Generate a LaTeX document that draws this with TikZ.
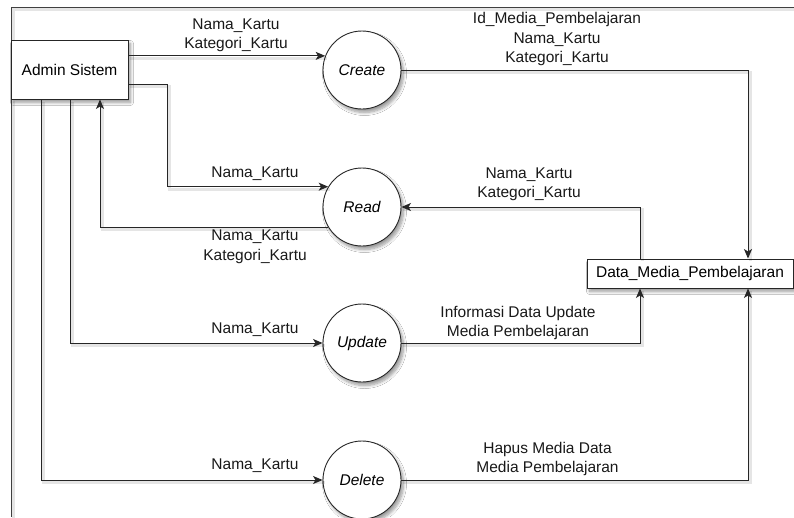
\documentclass[tikz,border=0pt]{standalone}
\usepackage{fontspec}
\setmainfont{Liberation Sans}
\usetikzlibrary{arrows.meta,shadows.blur}

\begin{document}
\begin{tikzpicture}[x=1pt,y=-1pt,
  font=\fontsize{15.5}{19.5}\selectfont,
  soft/.style={blur shadow={shadow xshift=2.5pt, shadow yshift=-3.5pt,
      shadow blur steps=8, shadow blur radius=3pt, shadow opacity=40}},
  entity/.style={draw=black!85, fill=white, line width=0.9pt, inner sep=0pt, soft},
  process/.style={circle, draw=black!85, fill=white, line width=0.9pt,
      minimum size=78pt, inner sep=0pt, font=\fontsize{15.5}{19.5}\selectfont\itshape, soft},
  lineshadow/.style={preaction={draw=black, draw opacity=0.10, line width=3pt, -,
      transform canvas={shift={(2pt,-2.5pt)}}}},
  flow/.style={draw=black!85, line width=1pt, lineshadow,
      -{Stealth[length=9.5pt,width=8pt,inset=2.4pt]}},
  lbl/.style={align=center, inner sep=0pt, text=black!90}
]
\useasboundingbox (0,0) rectangle (794,517);
\fill[white] (0,0) rectangle (794,517);

% outer frame of the sheet
\draw[black!75, line width=1pt, lineshadow] (11,517) -- (11,7) -- (794,7);

% external entity and data store
\node[entity, minimum width=117pt, minimum height=59pt] (admin) at (69.5,69.5) {Admin Sistem};
\node[entity, minimum width=206pt, minimum height=29pt] (data) at (690,273.5) {Data\_Media\_Pembelajaran};

% processes
\node[process] (create) at (362,70)  {Create};
\node[process] (read)   at (362,207) {Read};
\node[process] (update) at (362,343) {Update};
\node[process] (delete) at (362,480) {Delete};

% data flows
\draw[flow] (admin.east |- create.159) -- (create.159);
\draw[flow] ([yshift=-14.5pt]admin.east) -- ++(39,0) |- (read.149);
\draw[flow] (read.211) -| ([xshift=30.5pt]admin.south);
\draw[flow] ([xshift=0.5pt]admin.south) |- (update.west);
\draw[flow] ([xshift=-28.5pt]admin.south) |- (delete.west);
\draw[flow] (create.east) -| ([xshift=58pt]data.north);
\draw[flow] ([xshift=-50pt]data.north) |- (read.east);
\draw[flow] (update.east) -| ([xshift=-50pt]data.south);
\draw[flow] (delete.east) -| ([xshift=58pt]data.south);

% flow labels
\node[lbl] (l1) at (236,35.5)  {Nama\_Kartu\\Kategori\_Kartu};
\node[lbl] (l2) at (557,39)    {Id\_Media\_Pembelajaran\\Nama\_Kartu\\Kategori\_Kartu};
\node[lbl] (l3) at (255,174)   {Nama\_Kartu};
\node[lbl] (l4) at (255,247)   {Nama\_Kartu\\Kategori\_Kartu};
\node[lbl] (l5) at (529,184.5) {Nama\_Kartu\\Kategori\_Kartu};
\node[lbl] (l6) at (255,329.5) {Nama\_Kartu};
\node[lbl] (l7) at (255,465.5) {Nama\_Kartu};
\node[lbl] (l8) at (518,323)   {Informasi Data Update\\Media Pembelajaran};
\node[lbl] (l9) at (547.5,459) {Hapus Media Data\\Media Pembelajaran};
\end{tikzpicture}
\end{document}
